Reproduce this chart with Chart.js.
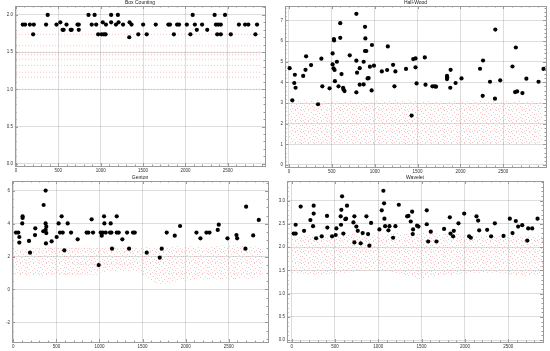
<!DOCTYPE html>
<html>
<head>
<meta charset="utf-8">
<script src="https://cdn.jsdelivr.net/npm/chart.js@4.4.0/dist/chart.umd.min.js"></script>
<style>
html, body { margin: 0; padding: 0; background: #fff; }
#wrap { position: relative; width: 550px; height: 351px; }
canvas { position: absolute; }
</style>
</head>
<body>
<div id="wrap">
  <canvas id="box" width="275" height="175" style="left:0;top:0"></canvas>
  <canvas id="hall" width="275" height="175" style="left:275px;top:0"></canvas>
  <canvas id="genton" width="275" height="176" style="left:0;top:175px"></canvas>
  <canvas id="wave" width="275" height="176" style="left:275px;top:175px"></canvas>
</div>
<script>
// --- Box Counting ---
const boxX = [80, 107, 164, 210, 202, 355, 374, 478, 523, 550, 562, 596, 646, 657, 726, 741, 741, 856, 894, 928, 947, 970, 1012, 1024, 1039, 1058, 1062, 1123, 1123, 1180, 1203, 1211, 1264, 1341, 1337, 1364, 1444, 1501, 1543, 1650, 1799, 1818, 1864, 1902, 1925, 2017, 2059, 2086, 2112, 2135, 2197, 2258, 2345, 2361, 2376, 2388, 2418, 2418, 2468, 2536, 2632, 2705, 2743, 2827, 2846];
const boxY = [1.87, 1.87, 1.87, 1.87, 1.74, 1.87, 2.0, 1.87, 1.9, 1.8, 1.8, 1.87, 1.8, 1.8, 1.87, 1.87, 1.8, 2.0, 1.87, 2.0, 1.87, 1.74, 1.74, 1.9, 1.74, 1.74, 1.87, 2.0, 1.9, 1.87, 2.0, 1.9, 1.87, 1.9, 1.7, 1.87, 1.74, 1.87, 1.74, 1.87, 1.87, 1.87, 1.74, 1.87, 1.87, 1.87, 1.74, 2.0, 1.87, 1.8, 1.87, 1.8, 2.0, 1.87, 1.74, 1.87, 1.87, 1.74, 2.0, 1.74, 1.87, 1.87, 1.87, 1.74, 1.87];
// red background levels (the dotted rows)
const boxLevels = [1.74, 1.585, 1.5, 1.465, 1.405, 1.32, 1.23, 1.165, 1.0];
const boxLevelFrom = [0, 0, 0, 0, 0, 0, 0, 0, 0];
const boxLevelTo = [2900, 2900, 2900, 2900, 2900, 2900, 2900, 2900, 2900];

// --- Hall-Wood ---
const hallX = [8, 39, 69, 62, 77, 166, 193, 200, 258, 378, 389, 339, 474, 509, 509, 520, 524, 526, 532, 536, 559, 578, 598, 598, 613, 632, 636, 648, 709, 786, 786, 786, 794, 825, 825, 871, 871, 887, 891, 887, 902, 917, 929, 944, 964, 968, 991, 1083, 1145, 1153, 1214, 1230, 1241, 1365, 1430, 1449, 1476, 1476, 1488, 1584, 1592, 1673, 1700, 1715, 1843, 1843, 1845, 1885, 1881, 1943, 2012, 2228, 2259, 2263, 2344, 2402, 2406, 2463, 2606, 2637, 2645, 2660, 2722, 2768, 2910, 2968];
const hallY = [4.69, 3.13, 4.37, 3.97, 3.74, 4.31, 4.61, 5.26, 4.84, 5.15, 3.81, 2.94, 3.71, 5.40, 4.87, 4.68, 6.10, 6.03, 4.60, 4.06, 5.0, 3.81, 6.87, 6.16, 4.40, 3.74, 3.66, 3.58, 5.31, 7.32, 5.05, 3.52, 4.47, 4.69, 3.89, 5.0, 3.90, 6.69, 6.13, 5.52, 5.52, 4.19, 4.21, 4.76, 3.61, 5.81, 4.81, 4.53, 4.60, 5.74, 4.85, 3.81, 4.53, 4.65, 2.39, 5.13, 4.73, 5.16, 3.95, 5.21, 3.89, 3.81, 3.81, 3.79, 4.31, 4.16, 4.23, 4.61, 3.74, 3.97, 4.19, 4.66, 3.35, 5.06, 4.03, 3.21, 6.56, 4.10, 4.77, 3.53, 5.69, 3.56, 3.48, 4.18, 4.03, 4.65];
const hallBandX = [0, 300, 600, 900, 1200, 1500, 1800, 2100, 2400, 2700, 2950];
const hallBandLow = [1.0, 1.0, 1.05, 1.0, 1.0, 0.95, 1.0, 1.0, 1.0, 1.0, 1.0];
const hallBandHigh = [3.1, 3.15, 3.1, 3.1, 3.15, 3.1, 3.1, 3.15, 3.1, 3.1, 3.1];

// --- Genton ---
const gentonX = [31, 58, 70, 70, 108, 108, 104, 182, 194, 255, 252, 352, 348, 375, 375, 375, 383, 383, 379, 445, 503, 526, 542, 561, 573, 592, 631, 670, 747, 851, 871, 909, 925, 991, 1014, 1026, 1037, 1053, 1057, 1072, 1122, 1130, 1138, 1145, 1200, 1200, 1223, 1265, 1320, 1343, 1389, 1409, 1548, 1699, 1722, 1780, 1873, 1935, 2125, 2171, 2241, 2276, 2372, 2384, 2485, 2589, 2597, 2693, 2701, 2783, 2848];
const gentonY = [3.46, 3.46, 3.19, 2.85, 4.45, 4.35, 4.02, 2.95, 2.24, 3.72, 3.31, 5.14, 3.54, 6.02, 4.02, 3.62, 3.82, 3.43, 2.80, 2.93, 3.19, 4.02, 3.46, 4.45, 3.46, 2.38, 4.02, 3.46, 3.05, 3.46, 3.46, 4.27, 3.46, 1.48, 3.46, 3.27, 3.46, 4.45, 4.02, 3.46, 3.46, 4.02, 3.46, 2.48, 4.45, 3.46, 3.46, 3.05, 3.46, 2.48, 3.46, 3.46, 2.24, 1.93, 2.48, 3.46, 3.27, 3.86, 3.46, 3.11, 3.46, 3.46, 3.62, 3.94, 3.11, 3.31, 3.11, 2.48, 5.04, 3.29, 4.23];
const gentonBandX = [0, 300, 600, 900, 1200, 1450, 1550, 1700, 1900, 2200, 2500, 2900];
const gentonBandLow = [0.9, 0.8, 0.9, 1.0, 1.1, 1.1, 0.6, 0.3, 0.5, 0.6, 0.6, 0.7];
const gentonBandHigh = [2.45, 2.5, 2.55, 2.5, 2.5, 2.5, 2.6, 2.5, 2.65, 2.6, 2.7, 2.6];
const gentonLevels = [2.5, 1.53, 0.92];
const gentonLevelFrom = [230, 700, 580];
const gentonLevelTo = [1430, 1390, 1000];

// --- Wavelet ---
const waveX = [23, 46, 46, 104, 143, 216, 247, 254, 254, 282, 347, 408, 412, 466, 508, 516, 566, 570, 574, 582, 597, 620, 628, 639, 713, 724, 724, 747, 763, 797, 820, 863, 882, 897, 917, 1013, 1040, 1059, 1067, 1071, 1079, 1117, 1129, 1171, 1198, 1237, 1333, 1348, 1375, 1391, 1398, 1402, 1448, 1464, 1560, 1560, 1576, 1606, 1672, 1760, 1826, 1834, 1864, 1872, 1926, 1992, 2049, 2069, 2134, 2153, 2165, 2257, 2303, 2346, 2446, 2519, 2550, 2588, 2615, 2662, 2720, 2731, 2777, 2839];
const waveY = [2.29, 2.29, 2.48, 2.87, 2.35, 2.58, 2.45, 2.89, 2.72, 2.19, 2.23, 2.67, 2.42, 2.23, 2.26, 2.40, 2.66, 2.48, 2.80, 3.09, 2.29, 2.60, 2.61, 2.89, 2.53, 2.66, 2.10, 2.44, 2.35, 2.08, 2.30, 2.66, 2.28, 2.03, 2.52, 2.38, 2.79, 3.21, 2.94, 2.61, 2.45, 2.36, 2.45, 2.20, 2.45, 2.91, 2.66, 2.67, 2.55, 2.76, 2.28, 2.38, 2.46, 2.44, 2.79, 2.49, 2.12, 2.33, 2.12, 2.39, 2.64, 2.29, 2.23, 2.35, 2.51, 2.72, 2.23, 2.20, 2.66, 2.57, 2.36, 2.37, 2.23, 2.51, 2.24, 2.61, 2.30, 2.56, 2.44, 2.47, 2.14, 2.40, 2.40, 2.61];
const waveBandX = [0, 300, 600, 900, 1200, 1500, 1800, 2100, 2400, 2700, 2900];
const waveBandLow = [1.45, 1.4, 1.45, 1.5, 1.45, 1.3, 1.4, 1.45, 1.45, 1.35, 1.45];
const waveBandHigh = [2.25, 2.25, 2.3, 2.25, 2.3, 2.3, 2.3, 2.25, 2.25, 2.25, 2.25];

const xTicks = [0, 500, 1000, 1500, 2000, 2500];

const pinkDot = 'rgba(238,120,120,0.42)';
const gridColor = 'rgba(0,0,0,0.17)';
const frameColor = '#9a9a9a';

// soft pink stipple standing in for the dense cloud of red points
function stipple() {
    const c = document.createElement('canvas');
    c.width = 13; c.height = 11;
    const g = c.getContext('2d');
    g.fillStyle = pinkDot;
    [[0, 0], [7, 0], [3, 1], [10, 2], [5, 3], [1, 4], [12, 4], [8, 5], [3, 6],
     [6, 7], [11, 7], [0, 8], [9, 9], [4, 9], [2, 10], [7, 10], [12, 10]]
        .forEach(p => g.fillRect(p[0], p[1], 1, 1));
    return g.createPattern(c, 'repeat');
}

function pts(xs, ys) {
    return xs.map((x, i) => ({ x: x, y: ys[i] }));
}

function levelSets(levels, from, to, color) {
    return levels.map((lv, i) => ({
        type: 'line',
        data: [{ x: from[i], y: lv }, { x: to[i], y: lv }],
        borderColor: color,
        borderWidth: 1,
        borderDash: [1, 2],
        pointRadius: 0,
        fill: false,
        order: 3
    }));
}

function bandSets(bx, low, high) {
    return [
        { type: 'line', data: pts(bx, low), borderWidth: 0, pointRadius: 0, fill: false, order: 2 },
        { type: 'line', data: pts(bx, high), borderWidth: 0, pointRadius: 0, fill: '-1', backgroundColor: stipple(), order: 2 }
    ];
}

// frame, inner ticks and title drawn like the original
const framePlugin = {
    id: 'frame',
    afterDraw(chart, args, opts) {
        const ctx = chart.ctx;
        const a = chart.chartArea;
        const xs = chart.scales.x, ys = chart.scales.y;
        ctx.save();
        ctx.strokeStyle = frameColor;
        ctx.lineWidth = 1;
        ctx.strokeRect(Math.round(a.left) + 0.5, Math.round(a.top) + 0.5, Math.round(a.right - a.left), Math.round(a.bottom - a.top));
        ctx.beginPath();
        for (let v = Math.ceil(xs.min / 100) * 100; v <= xs.max; v += 100) {
            const p = Math.round(xs.getPixelForValue(v)) + 0.5;
            const len = v % 500 === 0 ? 3 : 1.5;
            ctx.moveTo(p, a.bottom); ctx.lineTo(p, a.bottom - len);
            ctx.moveTo(p, a.top); ctx.lineTo(p, a.top + len);
        }
        const m = opts.yMinor, mj = opts.yMajor;
        for (let k = Math.ceil(ys.min / m); k * m <= ys.max; k++) {
            const v = k * m;
            const p = Math.round(ys.getPixelForValue(v)) + 0.5;
            const len = Math.abs(v / mj - Math.round(v / mj)) < 1e-6 ? 3 : 1.5;
            ctx.moveTo(a.left, p); ctx.lineTo(a.left + len, p);
            ctx.moveTo(a.right, p); ctx.lineTo(a.right - len, p);
        }
        ctx.stroke();
        ctx.fillStyle = '#222';
        ctx.font = '5px "Liberation Sans", Arial, sans-serif';
        ctx.textAlign = 'center';
        ctx.textBaseline = 'bottom';
        ctx.fillText(opts.title, (a.left + a.right) / 2, a.top - 0.5);
        ctx.restore();
    }
};

function makePanel(id, cfg) {
    const ctx = document.getElementById(id).getContext('2d');
    new Chart(ctx, {
        type: 'scatter',
        data: {
            datasets: [
                { data: cfg.points, backgroundColor: '#000', borderWidth: 0, pointRadius: 2.1, order: 0 }
            ].concat(cfg.extra)
        },
        options: {
            responsive: false,
            animation: false,
            devicePixelRatio: 1,
            layout: { padding: { top: cfg.top, right: cfg.right, left: 0, bottom: 0 } },
            plugins: {
                legend: { display: false },
                tooltip: { enabled: false },
                frame: { title: cfg.title, yMinor: cfg.yMinor, yMajor: cfg.yStep }
            },
            scales: {
                x: {
                    type: 'linear',
                    min: cfg.xMin, max: cfg.xMax,
                    afterFit: s => { s.height = cfg.xh; },
                    afterBuildTicks: s => { s.ticks = xTicks.map(v => ({ value: v })); },
                    grid: { color: gridColor, drawTicks: false, lineWidth: 0.8 },
                    border: { display: false },
                    ticks: {
                        font: { size: 4.5, family: '"Liberation Sans", Arial, sans-serif' },
                        color: '#333', padding: 2, maxRotation: 0, autoSkip: false,
                        callback: v => String(v)
                    }
                },
                y: {
                    type: 'linear',
                    min: cfg.yMin, max: cfg.yMax,
                    afterFit: s => { s.width = cfg.yw; },
                    grid: { color: gridColor, drawTicks: false, lineWidth: 0.8 },
                    border: { display: false },
                    ticks: {
                        stepSize: cfg.yStep, includeBounds: false,
                        font: { size: 4.5, family: '"Liberation Sans", Arial, sans-serif' },
                        color: '#333', padding: 2,
                        callback: v => cfg.yDec ? v.toFixed(1) : String(v)
                    }
                }
            }
        },
        plugins: [framePlugin]
    });
}

makePanel('box', {
    title: 'Box Counting',
    points: pts(boxX, boxY),
    extra: levelSets(boxLevels, boxLevelFrom, boxLevelTo, 'rgba(240,120,120,0.45)'),
    xMin: -12, xMax: 2940, yMin: -0.03, yMax: 2.12, yStep: 0.5, yMinor: 0.1, yDec: true,
    top: 6, right: 10, yw: 15, xh: 9
});

makePanel('hall', {
    title: 'Hall-Wood',
    points: pts(hallX, hallY),
    extra: bandSets(hallBandX, hallBandLow, hallBandHigh),
    xMin: -46, xMax: 2997, yMin: -0.1, yMax: 7.7, yStep: 1, yMinor: 0.2, yDec: false,
    top: 6, right: 2, yw: 10, xh: 8
});

makePanel('genton', {
    title: 'Genton',
    points: pts(gentonX, gentonY),
    extra: bandSets(gentonBandX, gentonBandLow, gentonBandHigh)
        .concat(levelSets(gentonLevels, gentonLevelFrom, gentonLevelTo, 'rgba(240,120,120,0.4)')),
    xMin: -15, xMax: 2955, yMin: -3.2, yMax: 6.6, yStep: 2, yMinor: 0.5, yDec: false,
    top: 6, right: 7, yw: 12, xh: 9
});

makePanel('wave', {
    title: 'Wavelet',
    points: pts(waveX, waveY),
    extra: bandSets(waveBandX, waveBandLow, waveBandHigh),
    xMin: -54, xMax: 2902, yMin: -0.04, yMax: 3.42, yStep: 0.5, yMinor: 0.1, yDec: true,
    top: 6, right: 7, yw: 12, xh: 9
});
</script>
</body>
</html>
